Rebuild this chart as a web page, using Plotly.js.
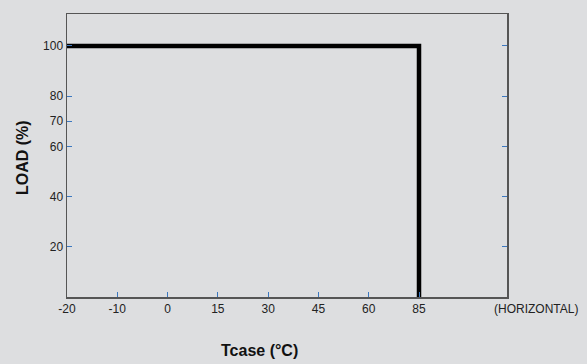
<!DOCTYPE html>
<html>
<head>
<meta charset="utf-8">
<script src="https://cdn.plot.ly/plotly-3.0.1.min.js"></script>
<style>html,body{margin:0;padding:0;background:#dddee0;}</style>
</head>
<body>
<div id="chart" style="width:587px;height:364px;"></div>
<script>
const tempCategories = ['-20', '-10', '0', '15', '30', '45', '60', '85'];
const curveTemp = ['-20', '85', '85'];
const curveLoad = [100, 100, 0];
const leftTickVals = [20, 40, 60, 70, 80, 100];
const rightTickVals = [20, 40, 60, 80, 100];
const extraLabel = '(HORIZONTAL)';
const xTitle = 'Tcase (°C)';
const yTitle = 'LOAD (%)';

const font = {family: 'Liberation Sans, Arial, sans-serif', size: 12, color: '#222'};
const titleFont = {family: 'Liberation Sans, Arial, sans-serif', size: 16, color: '#111', weight: 'bold'};
const tickBlue = '#3c78c0';

const data = [{
  x: curveTemp, y: curveLoad, type: 'scatter', mode: 'lines',
  line: {color: '#000', width: 4.5}, hoverinfo: 'skip', showlegend: false
}, {
  x: curveTemp, y: curveLoad, type: 'scatter', mode: 'none', yaxis: 'y2',
  hoverinfo: 'skip', showlegend: false
}];

const layout = {
  width: 587, height: 364,
  paper_bgcolor: '#dddee0', plot_bgcolor: '#dddee0',
  margin: {l: 67, r: 80, t: 14, b: 67},
  font: font,
  xaxis: {
    type: 'category', categoryorder: 'array', categoryarray: tempCategories,
    range: [0, 8.75], ticks: 'inside', ticklen: 5, tickcolor: tickBlue, tickwidth: 1,
    showline: true, linecolor: '#555', linewidth: 1.5, mirror: true,
    showgrid: false, zeroline: false, tickfont: font
  },
  yaxis: {
    range: [0, 112.7], tickvals: leftTickVals, ticktext: leftTickVals.map(String),
    ticks: 'inside', ticklen: 5, tickcolor: tickBlue, tickwidth: 1,
    showline: true, linecolor: '#555', linewidth: 1.5, mirror: true,
    showgrid: false, zeroline: false, tickfont: font
  },
  yaxis2: {
    overlaying: 'y', side: 'right', range: [0, 112.7], tickvals: rightTickVals,
    showticklabels: false, ticks: 'inside', ticklen: 5, tickcolor: tickBlue, tickwidth: 1,
    showline: false, showgrid: false, zeroline: false
  },
  annotations: [{
    text: extraLabel, xref: 'paper', yref: 'paper', x: 1.067, y: 0, yshift: -12,
    xanchor: 'center', yanchor: 'middle', showarrow: false, font: font
  }, {
    text: xTitle, xref: 'paper', yref: 'paper', x: (259.5 - 67) / 440, y: 0, yshift: -53,
    xanchor: 'center', yanchor: 'middle', showarrow: false, font: titleFont
  }, {
    text: yTitle, xref: 'paper', yref: 'paper', x: 0, xshift: -45, y: (297 - 158) / 283,
    xanchor: 'center', yanchor: 'middle', textangle: -90, showarrow: false, font: titleFont
  }]
};

Plotly.newPlot('chart', data, layout, {staticPlot: true, displayModeBar: false});
</script>
</body>
</html>
